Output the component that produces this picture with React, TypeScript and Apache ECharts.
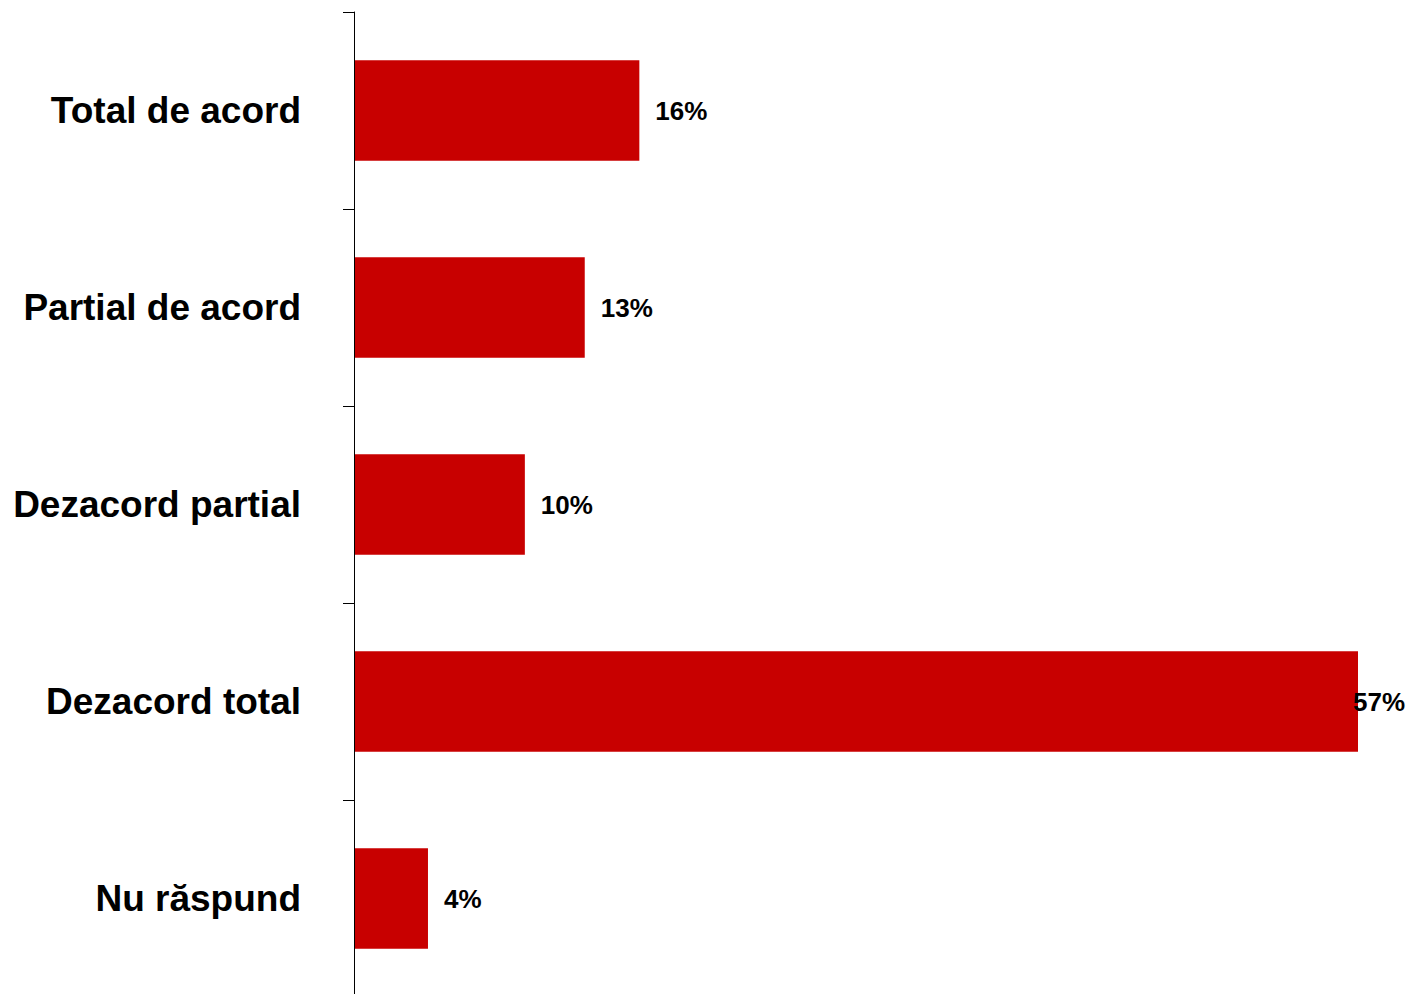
import React, { useEffect, useRef } from "react";
import * as echarts from "echarts";

const categories = ["Total de acord", "Partial de acord", "Dezacord partial", "Dezacord total", "Nu răspund"];
const values = [16.2, 13.1, 9.7, 57.0, 4.2];
const labelOffsets = [0, 0, 0, -21, 0];

export default function App() {
  const ref = useRef<HTMLDivElement>(null);
  useEffect(() => {
    const chart = echarts.init(ref.current!, null, { renderer: "svg" });
    chart.setOption({
      animation: false,
      backgroundColor: "#ffffff",
      grid: { left: 354, right: 51, top: 12, bottom: 0 },
      xAxis: {
        type: "value",
        min: 0,
        max: 57,
        show: false,
      },
      yAxis: {
        type: "category",
        inverse: true,
        data: categories,
        axisLine: { show: true, lineStyle: { color: "#000", width: 1 } },
        axisTick: { show: true, length: 11, lineStyle: { color: "#000" } },
        axisLabel: {
          color: "#000",
          fontFamily: "Liberation Sans, Arial, sans-serif",
          fontWeight: "bold",
          fontSize: 37,
          margin: 53,
        },
        z: 5,
      },
      series: [
        {
          type: "bar",
          barWidth: "51%",
          itemStyle: { color: "#C80000" },
          data: values.map((v, i) => ({
            value: v,
            label: { offset: [labelOffsets[i], 0] },
          })),
          label: {
            show: true,
            position: "right",
            distance: 16,
            color: "#000",
            fontFamily: "Liberation Sans, Arial, sans-serif",
            fontWeight: "bold",
            fontSize: 26,
            formatter: (p: any) => Math.round(p.value) + "%",
          },
        },
      ],
    });
    return () => chart.dispose();
  }, []);
  return (
    <div
      ref={ref}
      style={{ position: "fixed", left: 0, top: 0, width: 1409, height: 997 }}
    />
  );
}
